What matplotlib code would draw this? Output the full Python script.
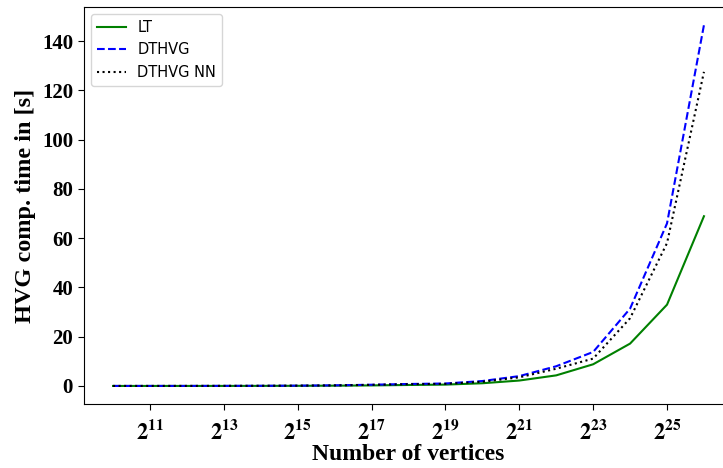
import numpy as np
import matplotlib
matplotlib.use("Agg")
import matplotlib.pyplot as plt
from matplotlib.ticker import FixedLocator, FuncFormatter, NullLocator

# Datos (exponentes de 2 y tiempos en segundos)
exponentes = list(range(10, 27))
lt = [0.002, 0.004, 0.008, 0.016, 0.03, 0.06, 0.12, 0.22, 0.4, 0.55, 1.1, 2.2, 4.3, 8.8, 17.2, 33.0, 68.9]
dthvg = [0.004, 0.008, 0.016, 0.03, 0.06, 0.12, 0.25, 0.5, 0.8, 1.0, 2.0, 4.0, 8.0, 13.8, 31.4, 66.0, 146.5]
dthvg_nn = [0.004, 0.008, 0.016, 0.03, 0.06, 0.11, 0.22, 0.45, 0.7, 0.85, 1.7, 3.5, 7.0, 11.1, 27.5, 58.0, 127.5]
xticks_exp = list(range(11, 26, 2))
yticks = [0, 20, 40, 60, 80, 100, 120, 140]

n = [2 ** e for e in exponentes]

plt.rcParams["mathtext.fontset"] = "stix"

fig = plt.figure(figsize=(7.23, 4.68), dpi=100)
ax = fig.add_axes([83.5 / 723, 64 / 468, 650 / 723, 397 / 468])

ax.plot(n, lt, color="green", linewidth=1.5, label="LT")
ax.plot(n, dthvg, color="blue", linestyle="--", linewidth=1.5, label="DTHVG")
ax.plot(n, dthvg_nn, color="black", linestyle=":", linewidth=1.5, label="DTHVG NN")

# Eje x en base 2, solo exponentes impares
ax.set_xscale("log", base=2)
ax.xaxis.set_major_locator(FixedLocator([2 ** e for e in xticks_exp]))
ax.xaxis.set_minor_locator(NullLocator())
ax.xaxis.set_major_formatter(FuncFormatter(lambda v, p: r"$\mathbf{2^{%d}}$" % round(np.log2(v))))
ax.set_yticks(yticks)

for lab in ax.get_yticklabels():
    lab.set_fontfamily("Liberation Serif")
    lab.set_fontweight("bold")
    lab.set_fontsize(15)
ax.tick_params(axis="x", labelsize=16, pad=6, length=4.5)
ax.tick_params(axis="y", length=4)

ax.set_xlabel("Number of vertices", fontsize=17, fontweight="bold", family="Liberation Serif", labelpad=1)
ax.set_ylabel("HVG comp. time in [s]", fontsize=17.5, fontweight="bold", family="Liberation Serif")

ax.legend(loc="upper left", fontsize=10.5)

fig.savefig("out.png", dpi=100)
